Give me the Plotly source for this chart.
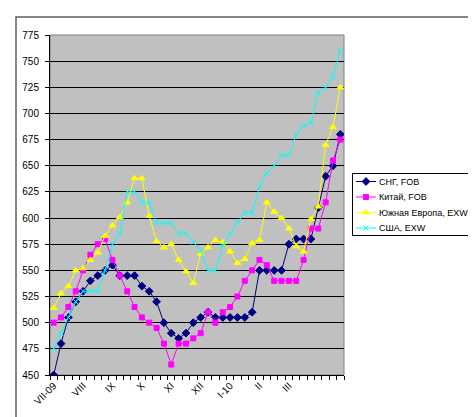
import plotly.graph_objects as go

# ---- data (weekly prices, VII-2009 .. III-2010) -----------------------
MONTH_LABELS = ["VII-09", "VIII", "IX", "X", "XI", "XII", "I-10", "II", "III"]
LABEL_EVERY = 4  # one month label every 4 weeks

SNG_FOB = [450, 480, 505, 520, 530, 540, 545, 550, 555, 545,
           545, 545, 535, 530, 520, 500, 490, 485, 490, 500,
           505, 510, 505, 505, 505, 505, 505, 510, 550, 550,
           550, 550, 575, 580, 580, 580, 610, 640, 650, 680]

CHINA_FOB = [500, 505, 515, 530, 550, 565, 575, 580, 560, 545,
             530, 515, 505, 500, 495, 480, 460, 480, 480, 485,
             490, 510, 500, 510, 515, 525, 540, 550, 560, 555,
             540, 540, 540, 540, 560, 590, 590, 615, 655, 675]

SEUROPE_EXW = [514, 528, 535, 550, 552, 560, 567, 583, 593, 601,
               615, 638, 638, 602, 578, 572, 575, 560, 549, 538,
               566, 572, 579, 577, 568, 557, 561, 576, 579, 615,
               606, 600, 590, 573, 568, 599, 611, 670, 687, 725]

USA_EXW = [475, 490, 505, 520, 530, 530, 530, 550, 575, 585,
           625, 625, 615, 615, 595, 595, 595, 585, 585, 577,
           569, 550, 550, 574, 585, 596, 605, 605, 630, 643,
           650, 660, 660, 680, 688, 691, 720, 725, 735, 760]

SERIES = [
    ("СНГ, FOB", SNG_FOB, "#000080", "diamond", 6),
    ("Китай, FOB", CHINA_FOB, "#FF00FF", "square", 5),
    ("Южная Европа, EXW", SEUROPE_EXW, "#FFFF00", "triangle-up", 6),
    ("США, EXW", USA_EXW, "#00FFFF", "x-thin", 5),
]

FONT = "Liberation Sans, Arial, sans-serif"
W, H = 476, 417
L, R, T, B = 42, 6, 27, 50
PW, PH = W - L - R, H - T - B

weeks = list(range(len(SNG_FOB)))

fig = go.Figure()

# ---- main series ------------------------------------------------------
for name, vals, color, symbol, size in SERIES:
    fig.add_trace(go.Scatter(
        x=weeks, y=vals, name=name, mode="lines+markers",
        line=dict(color=color, width=1),
        marker=dict(symbol=symbol, size=size, color=color,
                    line=dict(color=color, width=1)),
        showlegend=False, hoverinfo="skip",
    ))

# ---- hand-made legend box (Excel style, tight rows) ------------------
leg_x0, leg_x1, leg_top, leg_bot = 345, 467, 166, 227
row_h = 15.5
for k, (name, vals, color, symbol, size) in enumerate(SERIES):
    ry = leg_top + 7.5 + row_h * k
    fig.add_trace(go.Scatter(
        x=[leg_x0 + 3, leg_x0 + 23], y=[ry, ry], xaxis="x2", yaxis="y2",
        mode="lines", line=dict(color=color, width=1),
        showlegend=False, hoverinfo="skip",
    ))
    fig.add_trace(go.Scatter(
        x=[leg_x0 + 13], y=[ry], xaxis="x2", yaxis="y2", mode="markers",
        marker=dict(symbol=symbol, size=size, color=color,
                    line=dict(color=color, width=1)),
        showlegend=False, hoverinfo="skip",
    ))
    fig.add_annotation(
        x=leg_x0 + 24, y=ry, xref="x2", yref="y2", text=name,
        showarrow=False, xanchor="left", yanchor="middle",
        font=dict(family=FONT, size=9, color="black"),
    )

# ---- plot area + chart border ----------------------------------------
fig.add_shape(type="rect", xref="x domain", yref="y domain",
              x0=0, x1=1, y0=0, y1=1, layer="below",
              fillcolor="#C0C0C0", line=dict(color="#808080", width=1))
fig.add_shape(type="rect", xref="paper", yref="paper",
              x0=(8 - L) / PW, x1=(470 - L) / PW,
              y0=(H - B - 411) / PH, y1=(H - B - 9) / PH,
              line=dict(color="#606060", width=1.5))

tickvals = weeks[::LABEL_EVERY][:len(MONTH_LABELS)]

fig.update_layout(
    width=W, height=H,
    margin=dict(l=L, r=R, t=T, b=B),
    paper_bgcolor="white",
    plot_bgcolor="rgba(0,0,0,0)",
    font=dict(family=FONT, size=10, color="black"),
    xaxis=dict(
        domain=[0, 294 / PW],
        range=[-0.5, len(weeks) - 0.5],
        tickmode="array", tickvals=tickvals, ticktext=MONTH_LABELS,
        tickangle=-45, ticks="", showgrid=False, zeroline=False,
        showline=True, linecolor="black", linewidth=1,
        ticklabelstandoff=0,
        tickfont=dict(family=FONT, size=10, color="black"),
        minor=dict(tickmode="linear", tick0=-0.5, dtick=1,
                   ticks="outside", ticklen=4, tickcolor="black",
                   showgrid=False),
    ),
    yaxis=dict(
        domain=[0, 1],
        range=[450, 775], dtick=25, tick0=450,
        showgrid=True, gridcolor="black", gridwidth=1, zeroline=False,
        showline=True, linecolor="black", linewidth=1,
        ticks="outside", ticklen=4, tickcolor="black",
        ticklabelstandoff=4,
        tickfont=dict(family=FONT, size=10, color="black"),
    ),
    xaxis2=dict(
        domain=[(leg_x0 - L) / PW, (leg_x1 - L) / PW],
        range=[leg_x0, leg_x1], anchor="y2",
        showline=True, mirror=True, linecolor="black", linewidth=1,
        showgrid=False, zeroline=False, showticklabels=False, ticks="",
    ),
    yaxis2=dict(
        domain=[(H - B - leg_bot) / PH, (H - B - leg_top) / PH],
        range=[leg_bot, leg_top], anchor="x2",
        showline=True, mirror=True, linecolor="black", linewidth=1,
        showgrid=False, zeroline=False, showticklabels=False, ticks="",
    ),
    showlegend=False,
)

fig.write_html("out.html")
